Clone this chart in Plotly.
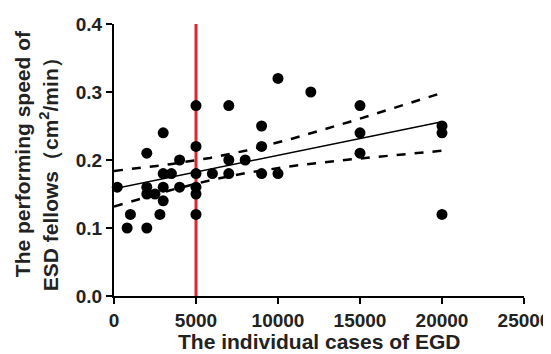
import numpy as np
import plotly.graph_objects as go

# Data
cases = [200, 800, 1000, 2000, 2000, 2000, 2000, 2500, 2800, 3000, 3000, 3000, 3000,
         3500, 4000, 4000, 5000, 5000, 5000, 5000, 5000, 5000, 6000, 7000, 7000, 7000,
         8000, 9000, 9000, 9000, 10000, 10000, 12000, 15000, 15000, 15000, 20000, 20000, 20000]
speed = [0.16, 0.10, 0.12, 0.10, 0.21, 0.16, 0.15, 0.15, 0.12, 0.24, 0.14, 0.16, 0.18,
         0.18, 0.16, 0.20, 0.28, 0.22, 0.18, 0.16, 0.15, 0.12, 0.18, 0.28, 0.20, 0.18,
         0.20, 0.25, 0.22, 0.18, 0.32, 0.18, 0.30, 0.28, 0.24, 0.21, 0.25, 0.24, 0.12]
threshold = 5000
x_ticks = [0, 5000, 10000, 15000, 20000, 25000]
y_ticks = [0.0, 0.1, 0.2, 0.3, 0.4]
x_title = "The individual cases of EGD"
y_title_1 = "The performing speed of"
y_title_2 = "ESD fellows（cm<sup>2</sup>/min）"

# Linear regression with 95% confidence band
x = np.array(cases, float)
y = np.array(speed, float)
n = len(x)
b, a = np.polyfit(x, y, 1)
resid = y - (a + b * x)
s = np.sqrt(np.sum(resid ** 2) / (n - 2))
sxx = np.sum((x - x.mean()) ** 2)
t = 2.026
xf = np.linspace(0, x.max(), 100)
yf = a + b * xf
half = t * s * np.sqrt(1 / n + (xf - x.mean()) ** 2 / sxx)

fig = go.Figure()
fig.add_trace(go.Scatter(x=[threshold, threshold], y=[0, 0.4], mode="lines",
                         line=dict(color="#e0262b", width=3), cliponaxis=False))
fig.add_trace(go.Scatter(x=xf, y=yf + half, mode="lines",
                         line=dict(color="black", width=2.5, dash="dash")))
fig.add_trace(go.Scatter(x=xf, y=yf - half, mode="lines",
                         line=dict(color="black", width=2.5, dash="dash")))
fig.add_trace(go.Scatter(x=xf, y=yf, mode="lines",
                         line=dict(color="black", width=1.5)))
fig.add_trace(go.Scatter(x=cases, y=speed, mode="markers", cliponaxis=False,
                         marker=dict(color="black", size=11)))

font = dict(family="Liberation Sans, Arial, sans-serif", color="#222", weight="bold")
# page body adds an 8px offset, so the figure is sized 543x346
fig.update_layout(
    width=543, height=346,
    margin=dict(l=106, r=27, t=16, b=58),
    paper_bgcolor="white", plot_bgcolor="white",
    showlegend=False,
    font=font,
    annotations=[
        dict(text=x_title, xref="paper", yref="paper", x=0.5, y=-0.169,
             xanchor="center", yanchor="middle", showarrow=False,
             font=dict(size=21, **font)),
        dict(text=y_title_1, xref="paper", yref="paper", x=-0.224, y=0.522,
             xanchor="center", yanchor="middle", showarrow=False, textangle=-90,
             font=dict(size=21, **font)),
        dict(text=y_title_2, xref="paper", yref="paper", x=-0.158, y=0.467,
             xanchor="center", yanchor="middle", showarrow=False, textangle=-90,
             font=dict(size=21, **font)),
    ],
)
fig.update_xaxes(range=[0, 25000], tickvals=x_ticks, tickformat="d", automargin=False,
                 showgrid=False, zeroline=False, showline=True, linecolor="black",
                 linewidth=2, ticks="outside", ticklen=6, tickwidth=2, tickcolor="black",
                 tickfont=dict(size=19, **font))
fig.update_yaxes(range=[0, 0.4], tickvals=y_ticks, tickformat=".1f", automargin=False,
                 showgrid=False, zeroline=False, showline=True, linecolor="black",
                 linewidth=2, ticks="outside", ticklen=6, tickwidth=2, tickcolor="black",
                 tickfont=dict(size=19, **font))

fig.write_html("out.html")
